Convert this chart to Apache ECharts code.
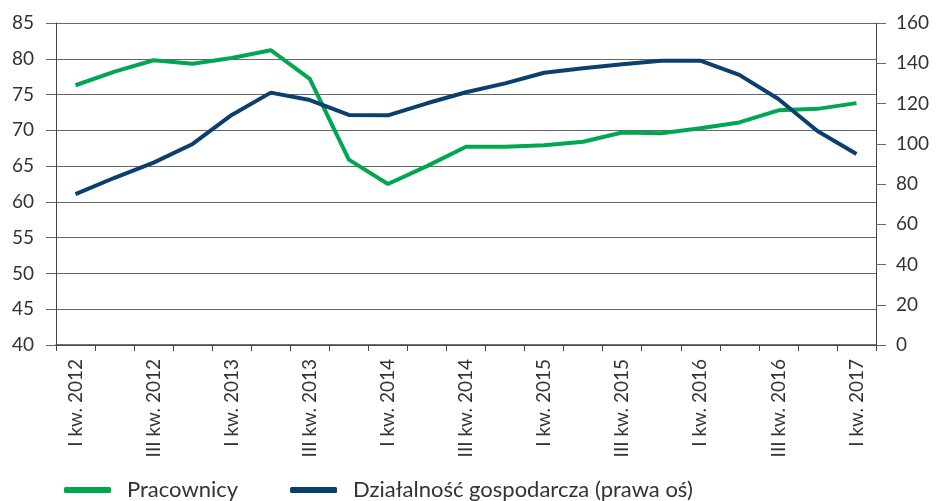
<!DOCTYPE html>
<html>
<head>
<meta charset="utf-8">
<script src="https://cdn.jsdelivr.net/npm/echarts@6/dist/echarts.min.js"></script>
<style>html,body{margin:0;padding:0;background:#fff}#c{width:938px;height:501px}</style>
</head>
<body>
<div id="c"></div>
<script>
const categories = [
  'I kw. 2012','II kw. 2012','III kw. 2012','IV kw. 2012',
  'I kw. 2013','II kw. 2013','III kw. 2013','IV kw. 2013',
  'I kw. 2014','II kw. 2014','III kw. 2014','IV kw. 2014',
  'I kw. 2015','II kw. 2015','III kw. 2015','IV kw. 2015',
  'I kw. 2016','II kw. 2016','III kw. 2016','IV kw. 2016',
  'I kw. 2017'
];
const pracownicy = [76.3, 78.2, 79.8, 79.3, 80.1, 81.2, 77.2, 65.9, 62.5, 65.0, 67.7,
  67.7, 67.9, 68.4, 69.7, 69.6, 70.3, 71.1, 72.8, 73.0, 73.8];
const dzialalnosc = [75.0, 83.1, 90.6, 99.9, 114.3, 125.4, 121.7, 114.3, 114.1, 120.1, 125.6,
  130.0, 135.3, 137.5, 139.5, 141.3, 141.3, 134.2, 122.2, 106.3, 94.9];
const leftTicks = {min: 40, max: 85, interval: 5};
const rightTicks = {min: 0, max: 160, interval: 20};
const seriesNames = ['Pracownicy', 'Działalność gospodarcza (prawa oś)'];

const FONT = 'Lato';
const chart = echarts.init(document.getElementById('c'));
chart.setOption({
  animation: false,
  textStyle: {fontFamily: FONT},
  grid: {left: 56, right: 62, top: 23, bottom: 156, containLabel: false},
  legend: {
    bottom: 0, left: 64, padding: 0,
    itemWidth: 47, itemHeight: 6, itemGap: 52,
    icon: 'roundRect',
    textStyle: {fontFamily: FONT, fontSize: 22, color: '#333', padding: [0, 0, 0, 11]},
    data: seriesNames
  },
  xAxis: {
    type: 'category',
    data: categories,
    boundaryGap: true,
    axisLine: {lineStyle: {color: '#444', width: 1.5}},
    axisTick: {show: true, interval: 0, length: 6, lineStyle: {color: '#444'}},
    axisLabel: {interval: 1, rotate: 90, fontSize: 19, color: '#333', margin: 14, fontFamily: FONT}
  },
  yAxis: [{
    type: 'value', ...leftTicks,
    axisLine: {show: true, lineStyle: {color: '#444'}},
    axisTick: {show: true, length: 10, lineStyle: {color: '#666'}},
    axisLabel: {fontSize: 19, color: '#333', margin: 22, fontFamily: FONT},
    splitLine: {show: true, lineStyle: {color: '#666', width: 1}}
  }, {
    type: 'value', ...rightTicks,
    position: 'right',
    axisLine: {show: true, lineStyle: {color: '#444'}},
    axisTick: {show: true, length: 10, lineStyle: {color: '#666'}},
    axisLabel: {fontSize: 19, color: '#333', margin: 20, fontFamily: FONT},
    splitLine: {show: false}
  }],
  series: [{
    name: seriesNames[0], type: 'line', yAxisIndex: 0,
    data: pracownicy, symbol: 'none',
    lineStyle: {color: '#00a650', width: 4}, itemStyle: {color: '#00a650'}
  }, {
    name: seriesNames[1], type: 'line', yAxisIndex: 1,
    data: dzialalnosc, symbol: 'none',
    lineStyle: {color: '#0a3f6e', width: 4}, itemStyle: {color: '#0a3f6e'}
  }]
});
</script>
</body>
</html>
